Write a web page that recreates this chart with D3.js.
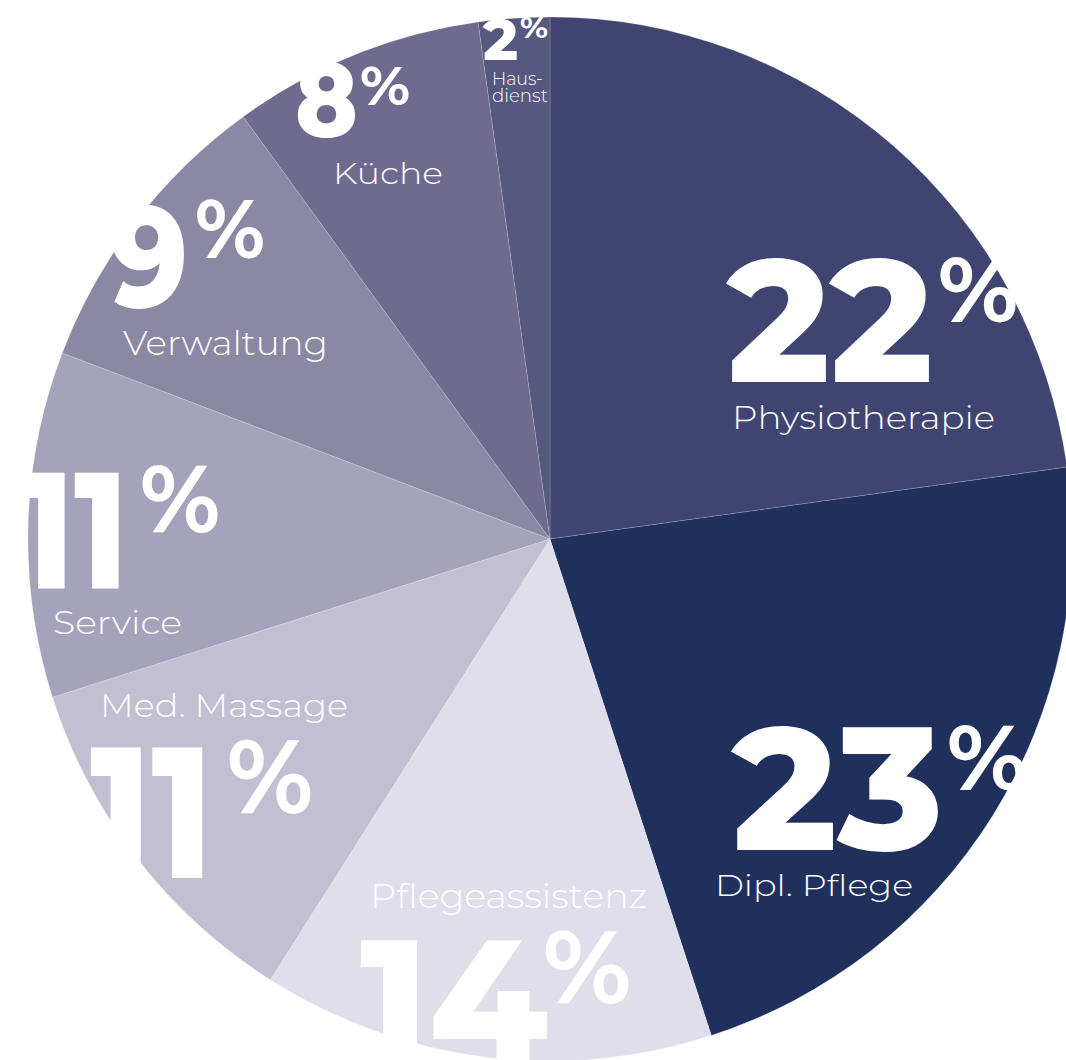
<html>
<head>
<meta charset="utf-8">
<script src="https://d3js.org/d3.v7.min.js"></script>
<style>
body {margin: 0; background: white;}
text {fill: white;}
.num {font-family: Montserrat, Inter, sans-serif; font-weight: 800;}
.pct {font-family: Montserrat, Inter, sans-serif; font-weight: 700;}
.lbl {font-family: Montserrat, Inter, sans-serif; font-weight: 300;}
</style>
</head>
<body>
<div id="chart"></div>
<script>
    // categories clockwise from 12 o'clock
    var categories = ["Physiotherapie", "Dipl. Pflege", "Pflegeassistenz", "Med. Massage", "Service", "Verwaltung", "Küche", "Hausdienst"];
    // slice sizes (share in %)
    var shares = [22.8, 22.2, 14.0, 11.1, 10.7, 9.2, 7.8, 2.2];
    // percentage texts printed on the slices
    var pctLabels = ["22", "23", "14", "11", "11", "9", "8", "2"];

    var colors = ["#3f4570", "#20305c", "#dfdeea", "#c2bfd2", "#a5a2bb", "#8b88a4", "#6e6b8f", "#56587f"];

    // where each label sits: number (left x, baseline, cap height, width),
    // percent sign (left x, top, height, width), name lines (left x, baseline, cap height, width)
    var labelLayout = [
        {num: [727, 382, 127, 206], pct: [938, 255, 67, 80], lines: [["Physiotherapie", 732, 429, 24, 263]]},
        {num: [732, 850, 127, 211], pct: [947, 723, 67, 80], lines: [["Dipl. Pflege", 715, 896, 22, 198]]},
        {num: [360, 1062, 127, 188], pct: [543, 928, 75, 88], lines: [["Pflegeassistenz", 370, 908, 25, 277]]},
        {num: [90, 878, 136, 123], pct: [227, 737, 76, 86], lines: [["Med. Massage", 100, 717, 24, 248]]},
        {num: [20, 588, 120, 108], pct: [140, 463, 69, 80], lines: [["Service", 53, 634, 24, 129]]},
        {num: [110, 307, 104, 78], pct: [195, 198, 60, 70], lines: [["Verwaltung", 123, 355, 25, 205]]},
        {num: [295, 137, 77, 63], pct: [360, 65, 40, 50], lines: [["Küche", 333, 184, 22, 110]]},
        {num: [483, 60, 42, 35], pct: [520, 17, 21, 28], lines: [["Haus-", 492, 85, 13, 51], ["dienst", 492, 102, 13, 56]]}
    ];

    var width = 1066, height = 1060;
    var cx = 550, cy = 539, radius = 522;
    var capRatio = 0.727;

    var svg = d3.select("#chart").append("svg")
        .attr("width", width)
        .attr("height", height);

    var pie = d3.pie().sort(null).value(function(d) { return d; });
    var arc = d3.arc().innerRadius(0).outerRadius(radius);

    svg.append("g")
        .attr("transform", "translate(" + cx + "," + cy + ")")
        .selectAll("path")
        .data(pie(shares))
        .enter()
        .append("path")
        .attr("d", arc)
        .attr("fill", function(d, i) { return colors[i]; })
        .attr("stroke", "rgba(255,255,255,0.25)")
        .attr("stroke-width", 0.7);

    var labels = svg.append("g");

    categories.forEach(function(c, i) {
        var L = labelLayout[i];
        labels.append("text")
            .attr("class", "num")
            .attr("x", L.num[0])
            .attr("y", L.num[1])
            .attr("font-size", L.num[2] / capRatio)
            .attr("textLength", L.num[3])
            .attr("lengthAdjust", "spacingAndGlyphs")
            .text(pctLabels[i]);

        labels.append("text")
            .attr("class", "pct")
            .attr("x", L.pct[0])
            .attr("y", L.pct[1] + L.pct[2])
            .attr("font-size", L.pct[2] / capRatio)
            .attr("textLength", L.pct[3])
            .attr("lengthAdjust", "spacingAndGlyphs")
            .text("%");

        L.lines.forEach(function(ln) {
            labels.append("text")
                .attr("class", "lbl")
                .attr("x", ln[1])
                .attr("y", ln[2])
                .attr("font-size", ln[3] / capRatio)
                .attr("textLength", ln[4])
                .attr("lengthAdjust", "spacingAndGlyphs")
                .text(ln[0]);
        });
    });
</script>
</body>
</html>
